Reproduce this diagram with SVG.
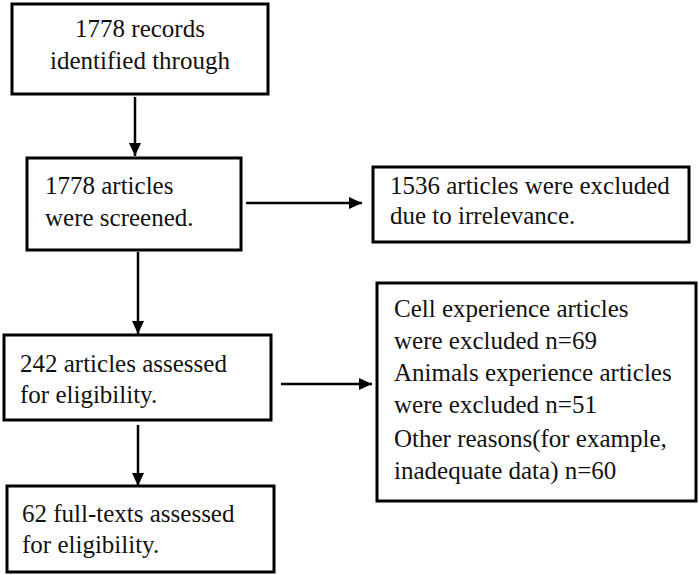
<svg xmlns="http://www.w3.org/2000/svg" width="699" height="575" viewBox="0 0 699 575">
<style>
.box{fill:#fff;stroke:#000;stroke-width:3}
.c{stroke:#000;stroke-width:2.5;fill:none}
</style>
<defs>
<marker id="ah" viewBox="0 0 13 12" refX="13" refY="6" markerWidth="13" markerHeight="12" markerUnits="userSpaceOnUse" orient="auto">
<path d="M0,0 L13,6 L0,12 z" fill="#000"/>
</marker>
</defs>
<rect width="699" height="575" fill="#fff"/>
<g id="connectors">
<line class="c" x1="135" y1="97" x2="135" y2="156" marker-end="url(#ah)"/>
<line class="c" x1="246" y1="203" x2="362" y2="203" marker-end="url(#ah)"/>
<line class="c" x1="138" y1="252" x2="138" y2="334" marker-end="url(#ah)"/>
<line class="c" x1="281" y1="384" x2="372" y2="384" marker-end="url(#ah)"/>
<line class="c" x1="138" y1="425" x2="138" y2="486" marker-end="url(#ah)"/>
</g>
<g font-family="Liberation Serif, Times New Roman, DejaVu Serif, serif" font-size="25" fill="#111">
<g id="n1">
<rect class="box" x="12" y="4" width="256" height="90"/>
<text x="140" y="37" text-anchor="middle">1778 records</text>
<text x="140" y="69" text-anchor="middle">identified through</text>
</g>
<g id="n2">
<rect class="box" x="27" y="158" width="214" height="92"/>
<text x="45" y="194">1778 articles</text>
<text x="45" y="226">were screened.</text>
</g>
<g id="n3">
<rect class="box" x="373" y="167" width="316" height="75"/>
<text x="390" y="194">1536 articles were excluded</text>
<text x="390" y="224">due to irrelevance.</text>
</g>
<g id="n4">
<rect class="box" x="377" y="283" width="319" height="218"/>
<text x="394" y="317">Cell experience articles</text>
<text x="394" y="349">were excluded n=69</text>
<text x="394" y="381">Animals experience articles</text>
<text x="394" y="413">were excluded n=51</text>
<text x="394" y="447">Other reasons(for example,</text>
<text x="394" y="479">inadequate data) n=60</text>
</g>
<g id="n5">
<rect class="box" x="4" y="335" width="267" height="85"/>
<text x="20" y="372">242 articles assessed</text>
<text x="20" y="403">for eligibility.</text>
</g>
<g id="n6">
<rect class="box" x="7" y="486" width="267" height="86"/>
<text x="22" y="522">62 full-texts assessed</text>
<text x="22" y="553">for eligibility.</text>
</g>
</g>
</svg>
